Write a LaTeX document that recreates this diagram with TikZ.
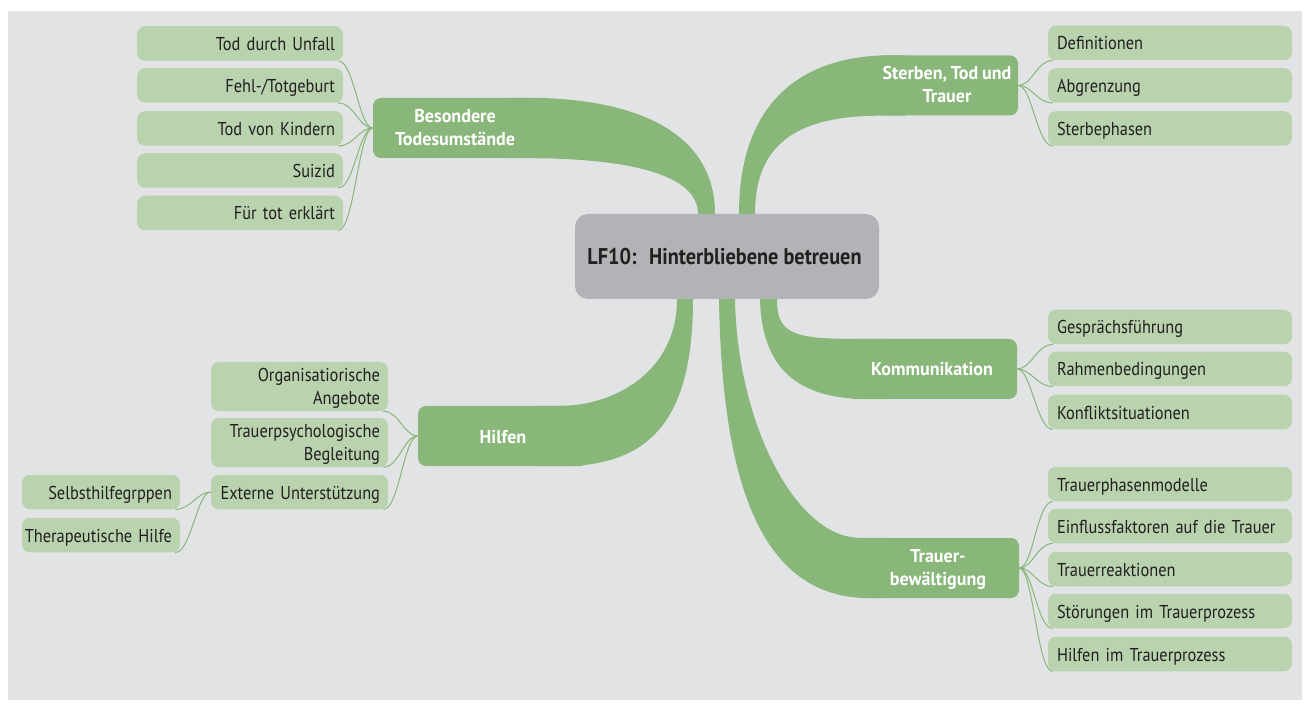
\documentclass[tikz,border=0pt]{standalone}
\usepackage{fontspec}
\setmainfont{PT Sans}[FakeStretch=0.88,
  BoldFeatures={FakeStretch=0.97}]
\newfontfamily\titlefamily{PT Sans}[FakeStretch=0.89]

\definecolor{canvasgray}{HTML}{E2E3E5}
\definecolor{branchgreen}{HTML}{89B77A}
\definecolor{leafgreen}{HTML}{B8D3AE}
\definecolor{hubgray}{HTML}{B2B3B6}
\definecolor{ink}{HTML}{231F20}

\newcommand\leaffont{\fontsize{18.6pt}{23pt}\selectfont
  \spaceskip=3.8pt plus 1pt minus 0.5pt\relax}
\newcommand\hubfont{\titlefamily\fontsize{22.8pt}{27pt}\selectfont\bfseries}

\pgfdeclarelayer{canvaslayer}
\pgfdeclarelayer{bandlayer}
\pgfsetlayers{canvaslayer,bandlayer,main}

\tikzset{
  leaf/.style={fill=leafgreen, text=ink, rounded corners=8pt, font=\leaffont,
    inner ysep=0pt, minimum height=34.5pt, text height=14pt, text depth=0pt},
  leafleft/.style={leaf, inner xsep=8pt, text width=#1, align=right},
  leafright/.style={leaf, inner xsep=9pt, text width=#1, align=left},
  twoline/.style={text height=14pt, text depth=24pt},
  branch/.style={fill=branchgreen, text=white, rounded corners=8pt,
    font=\leaffont\bfseries, align=center, minimum height=60pt, inner sep=0pt,
    text height=14pt, text depth=0pt},
  branchtwo/.style={branch, text height=36pt, text depth=1pt},
  hub/.style={fill=hubgray, text=ink, rounded corners=13pt, font=\hubfont,
    minimum width=304pt, minimum height=85pt, inner sep=0pt,
    text height=16pt, text depth=0pt},
  band/.style={fill=branchgreen},
  link/.style={draw=branchgreen, line width=1pt},
}

\begin{document}
\begin{tikzpicture}[x=1pt, y=-1pt]
\useasboundingbox (0,0) rectangle (1310,711);
\begin{pgfonlayer}{canvaslayer}
  \fill[white] (0,0) rectangle (1310,711);
  \fill[canvasgray] (8,11) rectangle (1302,700);
\end{pgfonlayer}

% central topic
\node[hub] (hub) at (727,256.5) {\hspace*{-5pt}LF10:\hspace{0.55em}Hinterbliebene betreuen};

% main branches
\node[branchtwo, minimum width=164pt] (bes) at (455,128) {Besondere\\Todesumstände};
\node[branchtwo, minimum width=142pt] (st)  at (947,85.5) {Sterben, Tod und\\Trauer};
\node[branch, minimum width=170pt] (kom) at (932,369) {Kommunikation};
\node[branchtwo, minimum width=162pt] (tra) at (938,568) {Trauer-\\bewältigung};
\node[branch, minimum width=170pt] (hil) at (503,436) {Hilfen};

% ribbons from the central topic to the branches
\begin{pgfonlayer}{bandlayer}
  \fill[band] ([xshift=-12pt,yshift=-16pt]hub.north) -- ([xshift=-12pt]hub.north)
    .. controls +(0,-79) and +(113,0) .. ([xshift=-10pt]bes.north east)
    -- ([xshift=-30pt]bes.north east) -- ([xshift=-30pt]bes.south east)
    -- ([xshift=-10pt]bes.south east)
    .. controls +(103,0) and +(0,-39) .. ([xshift=-29pt]hub.north)
    -- ([xshift=-29pt,yshift=-16pt]hub.north) -- cycle;
  \fill[band] ([xshift=12pt,yshift=-16pt]hub.north) -- ([xshift=12pt]hub.north)
    .. controls +(0,-119) and +(-80,0) .. ([xshift=14pt]st.north west)
    -- ([xshift=30pt]st.north west) -- ([xshift=30pt]st.south west)
    -- ([xshift=4pt]st.south west)
    .. controls +(-90,0) and +(0,-64) .. ([xshift=28pt]hub.north)
    -- ([xshift=28pt,yshift=-16pt]hub.north) -- cycle;
  \fill[band] ([xshift=-34pt,yshift=14pt]hub.south) -- ([xshift=-34pt]hub.south)
    .. controls +(0,121) and +(90,0) .. ([xshift=-28pt]hil.south east)
    -- ([xshift=-50pt]hil.south east) -- ([xshift=-50pt]hil.north east)
    -- ([xshift=-28pt]hil.north east)
    .. controls +(55,0) and +(0,72) .. ([xshift=-50pt]hub.south)
    -- ([xshift=-50pt,yshift=14pt]hub.south) -- cycle;
  \fill[band] ([xshift=33pt,yshift=14pt]hub.south) -- ([xshift=33pt]hub.south)
    .. controls +(2,72) and +(-70,0) .. ([xshift=23pt]kom.south west)
    -- ([xshift=40pt]kom.south west) -- ([xshift=40pt]kom.north west)
    -- ([xshift=3pt]kom.north west)
    .. controls +(-60,0) and +(0,32) .. ([xshift=50pt]hub.south)
    -- ([xshift=50pt,yshift=14pt]hub.south) -- cycle;
  \fill[band] ([xshift=-8pt,yshift=14pt]hub.south) -- ([xshift=-8pt]hub.south)
    .. controls +(3,182) and +(-110,0) .. ([xshift=13pt]tra.south west)
    -- ([xshift=30pt]tra.south west) -- ([xshift=30pt]tra.north west)
    -- ([xshift=3pt]tra.north west)
    .. controls +(-65,0) and +(2,122) .. ([xshift=8pt]hub.south)
    -- ([xshift=8pt,yshift=14pt]hub.south) -- cycle;
\end{pgfonlayer}

% Besondere Todesumstände
\node[leafleft=190pt] (b1) at (240,43.5)  {Tod durch Unfall};
\node[leafleft=190pt] (b2) at (240,85.5)  {Fehl-/Totgeburt};
\node[leafleft=190pt] (b3) at (240,128.5) {Tod von Kindern};
\node[leafleft=190pt] (b4) at (240,170.5) {Suizid};
\node[leafleft=190pt] (b5) at (240,213)   {Für tot erklärt};

% Sterben, Tod und Trauer
\node[leafright=226pt] (s1) at (1170,43)    {Definitionen};
\node[leafright=226pt] (s2) at (1170,85.5)  {Abgrenzung};
\node[leafright=226pt] (s3) at (1170,128.5) {Sterbephasen};

% Kommunikation
\node[leafright=226pt] (k1) at (1170,327) {Gesprächsführung};
\node[leafright=226pt] (k2) at (1170,369) {Rahmenbedingungen};
\node[leafright=226pt] (k3) at (1170,412) {Konfliktsituationen};

% Trauerbewältigung
\node[leafright=226pt] (t1) at (1170,484) {Trauerphasenmodelle};
\node[leafright=226pt] (t2) at (1170,526) {Einflussfaktoren auf die Trauer};
\node[leafright=226pt] (t3) at (1170,569) {Trauerreaktionen};
\node[leafright=226pt] (t4) at (1170,611) {Störungen im Trauerprozess};
\node[leafright=226pt] (t5) at (1170,654) {Hilfen im Trauerprozess};

% Hilfen
\node[leafleft=161pt, twoline, minimum height=49pt] (h1) at (299.5,386.5) {Organisatiorische\\Angebote};
\node[leafleft=161pt, twoline, minimum height=49pt] (h2) at (299.5,442.5) {Trauerpsychologische\\Begleitung};
\node[leafleft=161pt] (h3) at (299.5,492) {Externe Unterstützung};
\node[leafleft=142pt] (e1) at (101,492) {\makebox[0pt][r]{Selbsthilfegrppen}};
\node[leafleft=142pt] (e2) at (101,535) {\makebox[0pt][r]{Therapeutische Hilfe}};

% thin links from branches to their topics
\begin{pgfonlayer}{bandlayer}
  \foreach \c in {b1,b2,b3,b4,b5}
    \draw[link] (bes.west) .. controls +(-14,0) and +(16,0) .. ([xshift=-5pt]\c.south east);
  \foreach \c in {s1,s2,s3}
    \draw[link] (st.east) .. controls +(14,0) and +(-16,0) .. ([xshift=5pt]\c.south west);
  \foreach \c in {k1,k2,k3}
    \draw[link] (kom.east) .. controls +(14,0) and +(-16,0) .. ([xshift=5pt]\c.south west);
  \foreach \c in {t1,t2,t3,t4,t5}
    \draw[link] (tra.east) .. controls +(14,0) and +(-16,0) .. ([xshift=5pt]\c.south west);
  \foreach \c in {h1,h2,h3}
    \draw[link] (hil.west) .. controls +(-14,0) and +(16,0) .. ([xshift=-5pt]\c.south east);
  \foreach \c in {e1,e2}
    \draw[link] (h3.west) .. controls +(-14,0) and +(16,0) .. ([xshift=-5pt]\c.south east);
\end{pgfonlayer}
\end{tikzpicture}
\end{document}
